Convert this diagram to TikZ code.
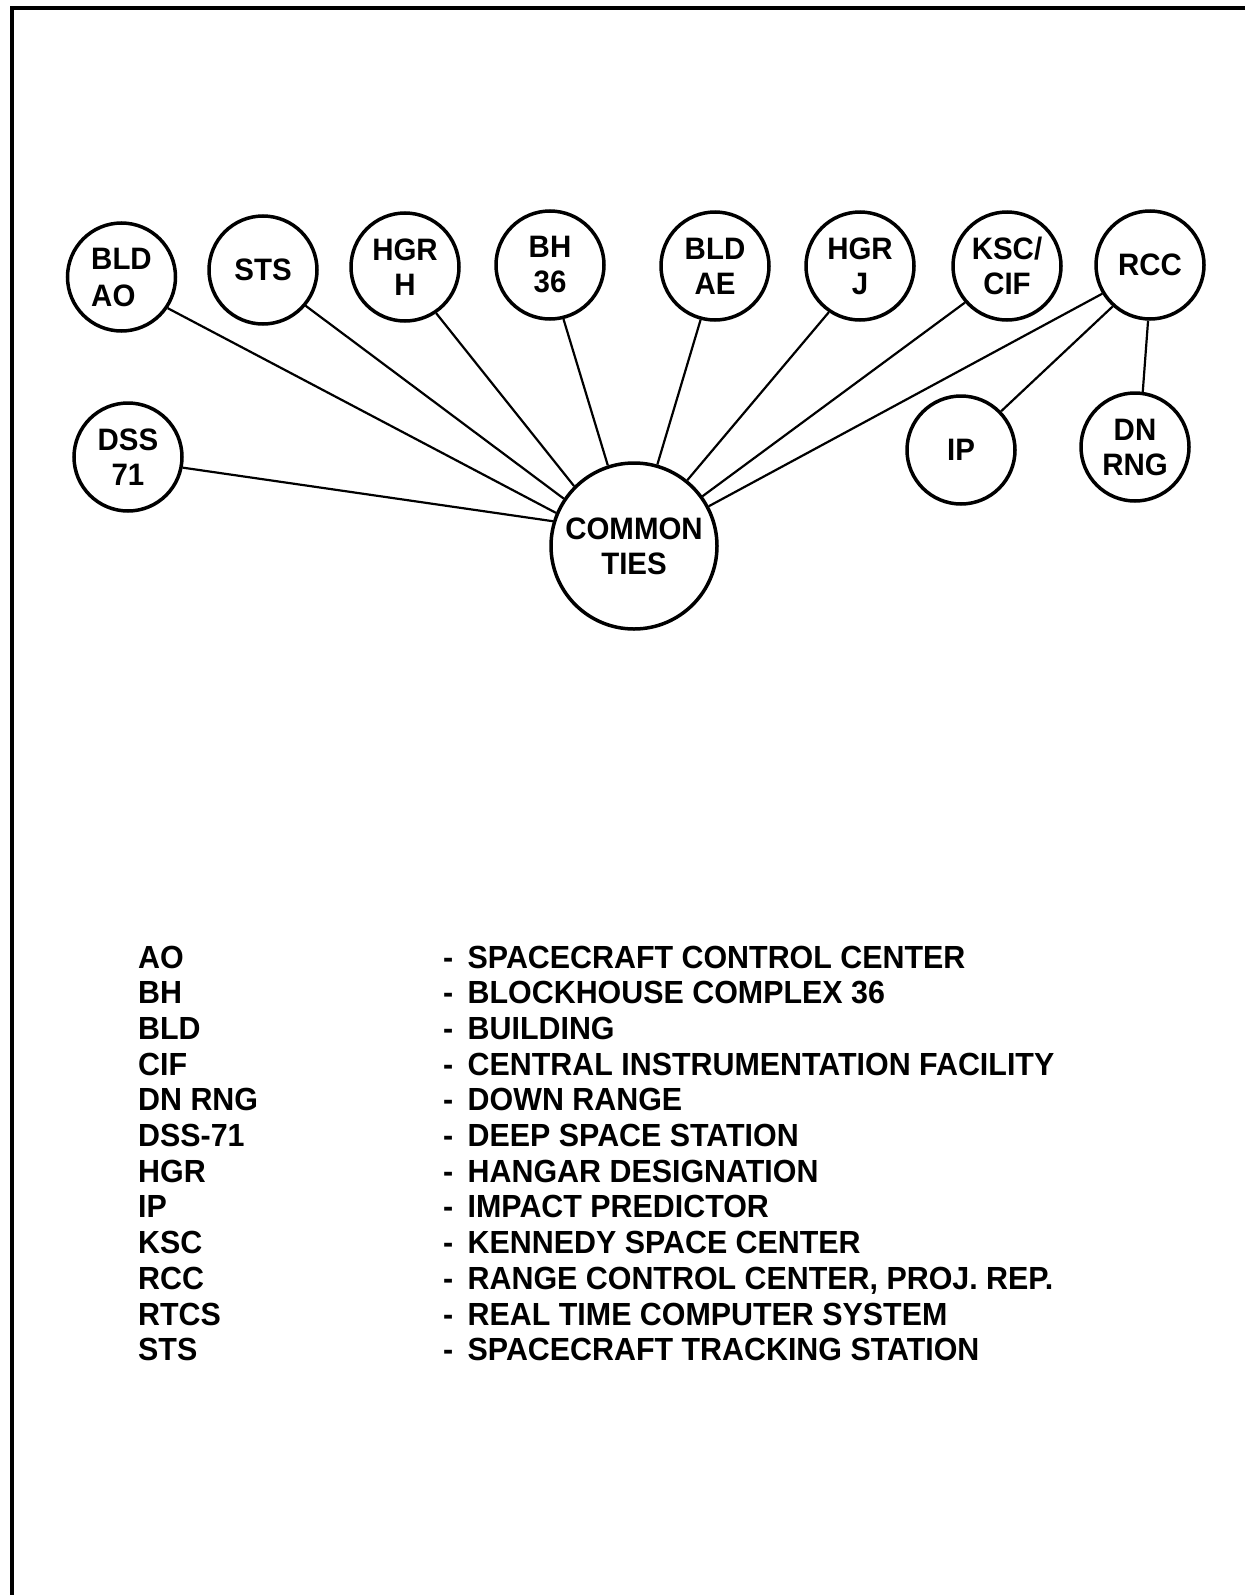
\documentclass[tikz,border=0pt]{standalone}
\usepackage{fontspec}
\setmainfont{Liberation Sans}[FakeStretch=0.95]
\begin{document}
\begin{tikzpicture}[x=1pt,y=-1pt,
  site/.style={circle,draw,line width=3.5pt,minimum size=108pt,inner sep=0pt,
    font=\fontsize{31}{35}\selectfont\bfseries,align=center},
  hub/.style={site,minimum size=166pt},
  tie/.style={line width=2.2pt},
  legkey/.style={anchor=base west,inner sep=0pt,font=\fontsize{32}{35}\selectfont\bfseries},
  frameline/.style={line width=4pt}]
\useasboundingbox[fill=white] (0,0) rectangle (1245,1595);
\draw[frameline] (1245,8) -- (12,8) -- (12,1595);
% sites
\node[site,align=left,font=\fontsize{31}{37}\selectfont\bfseries] (ao) at (121.5,277) {BLD\\AO};
\node[site] (sts) at (263,270) {STS};
\node[site] (hgrh) at (405,267) {HGR\\H};
\node[site] (bh) at (550,265) {BH\\36};
\node[site] (bldae) at (715,266) {BLD\\AE};
\node[site] (hgrj) at (860,266) {HGR\\J};
\node[site] (ksc) at (1007,266) {KSC/\\CIF};
\node[site] (rcc) at (1150,265) {RCC};
\node[site] (dss) at (128,457) {DSS\\71};
\node[site] (ip) at (961,450) {IP};
\node[site] (dn) at (1135,447) {DN\\RNG};
\node[hub] (ct) at (634,546) {COMMON\\TIES};
% ties
\draw[tie] (ao.-34) -- (ct.157);
\draw[tie] (sts.-40) -- (ct.146);
\draw[tie] (hgrh.-56) -- (ct.135);
\draw[tie] (bh.-76) -- (ct.108);
\draw[tie] (bldae.-105) -- (ct.74);
\draw[tie] (hgrj.-124) -- (ct.51);
\draw[tie] (ksc.-139) -- (ct.36);
\draw[tie] (rcc.-149) -- (ct.28);
\draw[tie] (dss.-11) -- (ct.163);
\draw[tie] (rcc.-132) -- (ip.44);
\draw[tie] (rcc.-92) -- (dn.82);
% legend
\foreach \k/\d [count=\i from 0] in {
  AO/SPACECRAFT CONTROL CENTER,
  BH/BLOCKHOUSE COMPLEX 36,
  BLD/BUILDING,
  CIF/CENTRAL INSTRUMENTATION FACILITY,
  DN RNG/DOWN RANGE,
  DSS-71/DEEP SPACE STATION,
  HGR/HANGAR DESIGNATION,
  IP/IMPACT PREDICTOR,
  KSC/KENNEDY SPACE CENTER,
  RCC/{RANGE CONTROL CENTER, PROJ. REP.},
  RTCS/REAL TIME COMPUTER SYSTEM,
  STS/SPACECRAFT TRACKING STATION}{
  \node[legkey] (key\i) at (138,968+35.7*\i) {\k};
  \node[legkey] (def\i) at (443,968+35.7*\i) {-\hspace{0.45em}\d};
}
\end{tikzpicture}
\end{document}
